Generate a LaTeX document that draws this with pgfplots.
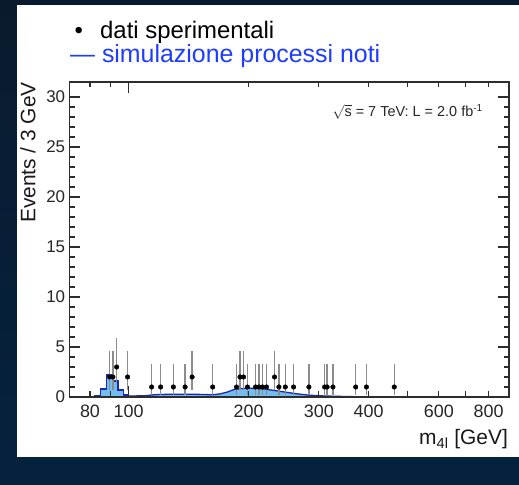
\documentclass[border=0pt]{standalone}
\usepackage{pgfplots}
\usepackage{pgfplotstable}
\pgfplotsset{compat=1.18}
\usepackage{fontspec}
\setmainfont{Liberation Sans}
\definecolor{bgtop}{RGB}{10,26,46}
\definecolor{bgmid}{RGB}{11,74,126}
\definecolor{bgbot}{RGB}{4,34,62}
\definecolor{mcfill}{RGB}{115,190,240}
\definecolor{mcline}{RGB}{30,40,170}
\definecolor{legblue}{RGB}{30,60,255}
\definecolor{errgray}{RGB}{140,140,140}
\definecolor{framegray}{RGB}{45,45,45}

\pgfplotstableread{
x y ep em
89.6 2 2.64 1.29
91.3 2 2.64 1.29
93.3 3 2.92 1.63
99.4 2 2.64 1.29
114.2 1 2.30 0.83
120.3 1 2.30 0.83
129.5 1 2.30 0.83
138.6 1 2.30 0.83
144.3 2 2.64 1.29
162.5 1 2.30 0.83
186.5 1 2.30 0.83
190.3 2 2.64 1.29
194.2 2 2.64 1.29
198.7 1 2.30 0.83
208.1 1 2.30 0.83
212.4 1 2.30 0.83
216.7 1 2.30 0.83
221.8 1 2.30 0.83
232.3 2 2.64 1.29
238.2 1 2.30 0.83
247.2 1 2.30 0.83
259.3 1 2.30 0.83
283.3 1 2.30 0.83
310.2 1 2.30 0.83
314.8 1 2.30 0.83
325.5 1 2.30 0.83
371.2 1 2.30 0.83
395.0 1 2.30 0.83
463.8 1 2.30 0.83
}\datatable

\begin{document}
\begin{tikzpicture}[x=1bp,y=1bp]
\path[use as bounding box] (0,0) rectangle (519,485);
\shade[top color=bgtop, middle color=bgmid, bottom color=bgbot] (0,0) rectangle (519,485);
\fill[white] (17,28) rectangle (519,480);

\node[anchor=base west, inner sep=0, font=\fontsize{24}{24}\selectfont] at (74.3,446) {•};
\node[anchor=base west, inner sep=0, font=\fontsize{24}{24}\selectfont] at (100,446) {dati sperimentali};
\node[anchor=base west, inner sep=0, font=\fontsize{25}{25}\selectfont, text=legblue] at (70,422) {— simulazione processi noti};

\begin{axis}[
  at={(69.3bp,88bp)}, anchor=south west,
  scale only axis, width=439.7bp, height=315bp,
  xmode=log, xmin=71, xmax=900, ymin=0, ymax=31.5,
  xtick={100}, xticklabels={100},
  minor xtick={80,90,200,300,400,500,600,700,800},
  extra x ticks={80,200,300,400,600,800},
  extra x tick labels={80,200,300,400,600,800},
  extra x tick style={major tick length=0pt},
  ytick={0,5,...,30}, minor y tick num=4,
  major tick length=11bp, minor tick length=5.5bp,
  axis line style={framegray, line width=1.3bp},
  every tick/.style={framegray, line width=1.1bp},
  tick label style={font=\fontsize{18}{18}\selectfont, text=black!85},
  yticklabel style={font=\fontsize{17}{17}\selectfont, inner sep=0pt, xshift=-4bp},
  xticklabel style={inner sep=0pt, yshift=-8bp},
  /pgf/number format/assume math mode=true,
  axis on top,
]
\addplot[const plot, draw=mcline, line width=1.3bp, fill=mcfill]
  coordinates {(79,0.05)(82,0.12)(85,0.8)(88,2.2)(91,1.6)(94,0.7)(97,0.2)(100,0.1)} \closedcycle;
\addplot[sharp plot, draw=mcline, line width=1.3bp, fill=mcfill]
  coordinates {(100,0.1)(110,0.12)(114,0.2)(119.5,0.25)(130,0.28)(142,0.28)(155,0.25)(162,0.22)(169,0.3)(177,0.5)(184,0.75)(192,0.85)(200,0.87)(210,0.85)(219,0.8)(232,0.65)(246,0.5)(264,0.32)(284,0.18)(301,0.12)(325,0.08)(358,0.04)(385,0.02)(426,0.0)} \closedcycle;
\addplot[draw=none, mark=none, error bars/.cd, y dir=both, y explicit,
  error bar style={errgray, line width=1.5bp}, error mark=none]
  table[x=x, y=y, y error plus=ep, y error minus=em] {\datatable};
\addplot[only marks, mark=*, mark size=2.3bp, black]
  table[x=x, y=y] {\datatable};
\end{axis}

\node[anchor=east, inner sep=0, font=\fontsize{14.5}{14.5}\selectfont, text=black!85] at (483,373.3) {$\sqrt{\mbox{s}}$ = 7 TeV: L = 2.0 fb\textsuperscript{-1}};
\node[rotate=90, anchor=east, inner sep=0, font=\fontsize{21}{21}\selectfont, text=black!90] at (28,403) {Events / 3 GeV};
\node[anchor=base east, inner sep=0, font=\fontsize{21}{21}\selectfont, text=black!90] at (508,40) {m\textsubscript{4l} [GeV]};
\end{tikzpicture}
\end{document}
